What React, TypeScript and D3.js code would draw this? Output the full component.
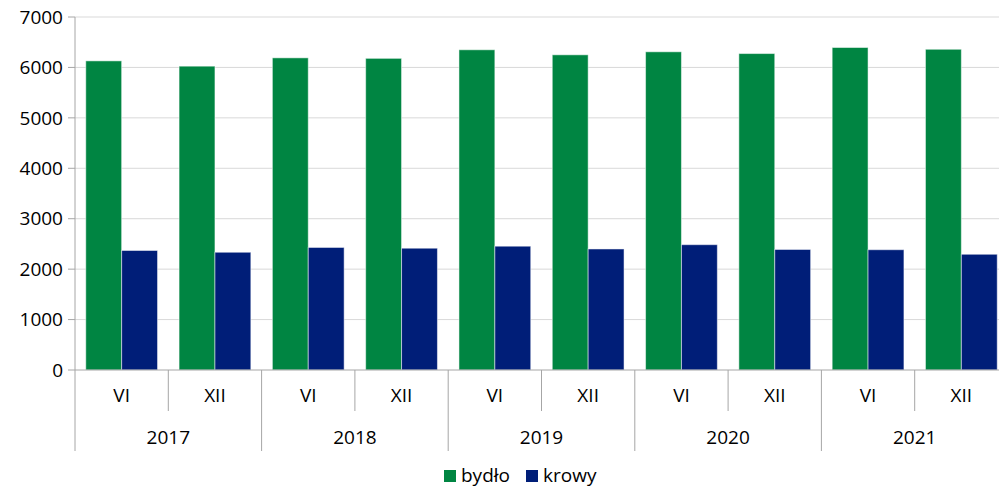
import React from 'react';
import * as d3 from 'd3';

const years = ['2017', '2018', '2019', '2020', '2021'];
const halves = ['VI', 'XII'];
const bydlo = [6130, 6025, 6190, 6180, 6350, 6250, 6310, 6275, 6395, 6360];
const krowy = [2370, 2335, 2430, 2415, 2455, 2400, 2485, 2390, 2385, 2295];
const yTicks = [0, 1000, 2000, 3000, 4000, 5000, 6000, 7000];

const series = [
  { name: 'bydło', values: bydlo, color: '#008542' },
  { name: 'krowy', values: krowy, color: '#001E78' },
];

const W = 999;
const H = 488;
// plot area runs a little past the right edge of the picture (clipped there)
const margin = { top: 17, right: -9, bottom: 118, left: 75 };
const font = '"Open Sans", Lato, sans-serif';

export default function App() {
  const cats = years.flatMap(y => halves.map(h => `${y}-${h}`));
  const x = d3.scaleBand<string>()
    .domain(cats)
    .range([margin.left, W - margin.right]);
  const inner = d3.scaleBand<string>()
    .domain(series.map(s => s.name))
    .range([0, x.bandwidth()])
    .paddingOuter(0.3);
  const y = d3.scaleLinear()
    .domain([0, 7000])
    .range([H - margin.bottom, margin.top]);
  const y0 = y(0);

  return (
    <svg width={W} height={H} style={{ position: 'absolute', left: 0, top: 0, fontFamily: font }}>
      <rect width={W} height={H} fill="#fff" />
      {yTicks.map(t => (
        <g key={t}>
          {t > 0 && (
            <line x1={margin.left} x2={W} y1={y(t)} y2={y(t)} stroke="#d9d9d9" strokeWidth={1} />
          )}
          <line x1={margin.left - 7} x2={margin.left} y1={y(t)} y2={y(t)} stroke="#a6a6a6" />
          <text x={margin.left - 12} y={y(t)} dy="0.35em" textAnchor="end" fontSize={19} fontWeight={500} fill="#000">
            {t}
          </text>
        </g>
      ))}
      {cats.map((c, i) => (
        <g key={c}>
          {series.map(s => (
            <rect
              key={s.name}
              x={(x(c) ?? 0) + (inner(s.name) ?? 0)}
              y={y(s.values[i])}
              width={inner.bandwidth()}
              height={y0 - y(s.values[i])}
              fill={s.color}
              stroke="rgba(255,255,255,0.5)"
              strokeWidth={1}
            />
          ))}
        </g>
      ))}
      <line x1={margin.left} x2={margin.left} y1={margin.top} y2={y0} stroke="#a6a6a6" />
      <line x1={margin.left} x2={W} y1={y0} y2={y0} stroke="#a6a6a6" />
      {cats.map((c, i) => {
        const x0 = x(c) ?? 0;
        const isYearStart = i % 2 === 0;
        return (
          <g key={`t-${c}`}>
            <line x1={x0} x2={x0} y1={y0} y2={isYearStart ? 451 : 411} stroke="#a6a6a6" />
            <text x={x0 + x.bandwidth() / 2} y={395} dy="0.35em" textAnchor="middle" fontSize={19} fontWeight={500} fill="#000">
              {halves[i % 2]}
            </text>
          </g>
        );
      })}
      {years.map(yr => {
        const x0 = x(`${yr}-VI`) ?? 0;
        return (
          <text key={yr} x={x0 + x.bandwidth()} y={437} dy="0.35em" textAnchor="middle" fontSize={19} fontWeight={500} fill="#000">
            {yr}
          </text>
        );
      })}
      <g transform="translate(444, 475)">
        <rect x={0} y={-5} width={12} height={12} fill={series[0].color} />
        <text x={17} y={0} dy="0.35em" fontSize={19} fontWeight={500} fill="#000">{series[0].name}</text>
        <rect x={82} y={-5} width={12} height={12} fill={series[1].color} />
        <text x={99} y={0} dy="0.35em" fontSize={19} fontWeight={500} fill="#000">{series[1].name}</text>
      </g>
    </svg>
  );
}
